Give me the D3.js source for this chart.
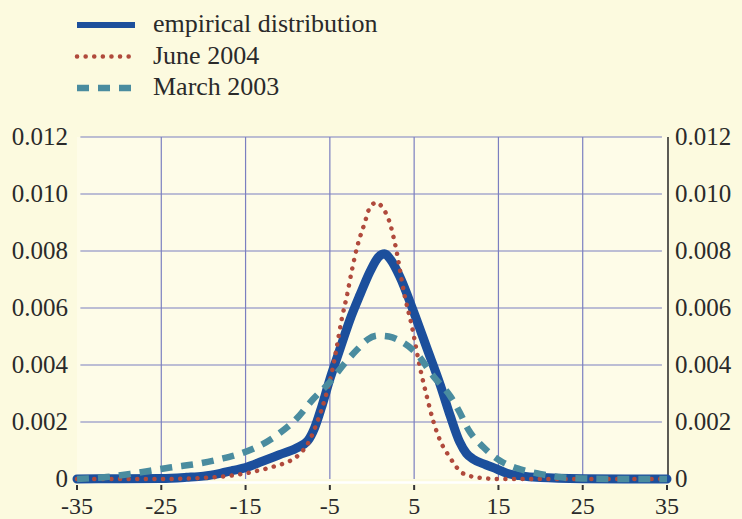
<!DOCTYPE html>
<html><head><meta charset="utf-8">
<script src="https://cdn.jsdelivr.net/npm/d3@7"></script>
<style>
html,body{margin:0;padding:0;background:#fcfadf;}
svg{display:block;}
text{font-family:"Liberation Serif","Times New Roman",serif;fill:#2a2a2a;}
</style></head>
<body>
<svg id="chart" width="742" height="519"></svg>
<script>
// ---- data ----
const xTicks = [-35,-25,-15,-5,5,15,25,35];
const yTicks = [0,0.002,0.004,0.006,0.008,0.010,0.012];
const yTickLabels = ["0","0.002","0.004","0.006","0.008","0.010","0.012"];
const seriesNames = ["empirical distribution","June 2004","March 2003"];

const empiricalX = [-35,-30,-25,-22,-20,-18,-16.5,-15,-13,-11,-9,-7.6,-6.8,-6,-5,-3.8,-2.6,-1.4,-0.2,0.8,1.5,2.2,3.3,4.9,6.5,8.1,9.3,10.4,11.2,12,13.5,14.8,16,17.5,20,25,30,35];
const empiricalY = [0,0.00001,0.00002,0.00006,0.0001,0.0002,0.0003,0.0004,0.00062,0.00085,0.00108,0.00135,0.0018,0.0025,0.0035,0.00456,0.0056,0.00648,0.0073,0.0078,0.0079,0.0077,0.0071,0.0059,0.0046,0.0033,0.0022,0.0013,0.0009,0.0007,0.0005,0.00035,0.0002,0.00012,0.00005,0.00001,0,0];

const juneX = [-35,-25,-20,-16,-13,-11.3,-9.7,-8.5,-7.5,-6.5,-5.5,-4.8,-4.2,-3.6,-3,-2.4,-1.8,-0.85,-0.3,0.5,1.3,2.1,2.7,3.9,4.7,5.7,6.5,7.3,8.1,9.1,10.9,12.9,15,35];
const juneY = [0,0,0.00004,0.00015,0.00033,0.00047,0.00064,0.0009,0.0013,0.002,0.0029,0.0037,0.0046,0.0056,0.0064,0.0073,0.0081,0.009,0.0095,0.0097,0.0095,0.009,0.0083,0.0064,0.0054,0.0039,0.0029,0.002,0.00134,0.00082,0.00018,0.00004,0,0];

const marchX = [-35,-31.5,-28.7,-26.3,-23.6,-20.8,-18,-15.7,-13.3,-11,-9,-7,-5,-3.4,-1.7,-0.5,0.7,2,3.3,5.3,7.3,9.3,10.4,11.4,13.2,15.2,17.5,19.9,22.5,25,30,35];
const marchY = [0,0.00007,0.00018,0.00029,0.00042,0.00053,0.0007,0.00088,0.00117,0.0016,0.0021,0.0028,0.0034,0.004,0.00456,0.0049,0.00503,0.005,0.00485,0.0044,0.0036,0.0029,0.00234,0.00175,0.00112,0.00064,0.00035,0.00018,0.00006,0.00002,0,0];

// ---- chart ----
const svg = d3.select("#chart");
const x = d3.scaleLinear().domain([-35,35]).range([77,667]);
const y = d3.scaleLinear().domain([0,0.012]).range([479,137]);

// plot background
svg.append("rect").attr("x",x(-35)).attr("y",y(0.012)).attr("width",x(35)-x(-35)).attr("height",y(0)-y(0.012)).attr("fill","#fefce8");

// horizontal gridlines
svg.append("g").selectAll("line").data(yTicks.filter(d=>d>0)).join("line")
  .attr("x1",x(-34.6)).attr("x2",x(34.4))
  .attr("y1",d=>y(d)).attr("y2",d=>y(d))
  .attr("stroke","#7b7fc0").attr("stroke-width",1.2);
// vertical gridlines
svg.append("g").selectAll("line").data(xTicks.slice(1,-1)).join("line")
  .attr("x1",d=>x(d)).attr("x2",d=>x(d))
  .attr("y1",y(0.012)).attr("y2",y(0))
  .attr("stroke","#7b7fc0").attr("stroke-width",1.2);

// bottom axis (white line with dark ticks)
const xAxis = d3.axisBottom(x).tickValues(xTicks).tickSize(0).tickPadding(0).tickFormat("");
const gx = svg.append("g").attr("transform",`translate(0,${y(0)+3})`).call(xAxis);
gx.select(".domain").attr("stroke","#ffffff").attr("stroke-width",2.5);
svg.append("g").selectAll("line").data(xTicks).join("line")
  .attr("x1",d=>x(d)).attr("x2",d=>x(d))
  .attr("y1",y(0)+6).attr("y2",y(0)+11)
  .attr("stroke","#333").attr("stroke-width",2);
svg.append("g").selectAll("text").data(xTicks).join("text")
  .attr("x",d=>x(d)).attr("y",513.5).attr("text-anchor","middle")
  .attr("font-size",24).text(d=>d);

// right axis line
svg.append("line").attr("x1",668).attr("x2",668).attr("y1",y(0.012)).attr("y2",y(0)+3)
  .attr("stroke","#333").attr("stroke-width",1.6);

// y labels
svg.append("g").selectAll("text").data(yTicks).join("text")
  .attr("x",68).attr("y",d=>y(d)).attr("dy","0.3em").attr("text-anchor","end")
  .attr("font-size",25).text((d,i)=>yTickLabels[i]);
svg.append("g").selectAll("text").data(yTicks).join("text")
  .attr("x",675).attr("y",d=>y(d)).attr("dy","0.3em").attr("text-anchor","start")
  .attr("font-size",25).text((d,i)=>yTickLabels[i]);

// lines
const line = d3.line().x(d=>x(d[0])).y(d=>y(d[1])).curve(d3.curveMonotoneX);
const zip = (a,b)=>a.map((v,i)=>[v,b[i]]);
const styles = [
  {stroke:"#1c4f9c", width:9, dash:null, cap:"round"},
  {stroke:"#b04a3c", width:4.5, dash:"0.1,8.5", cap:"round"},
  {stroke:"#4a8c9f", width:6.5, dash:"12,9", cap:"butt"}
];
const data = [zip(empiricalX,empiricalY), zip(juneX,juneY), zip(marchX,marchY)];
data.forEach((d,i)=>{
  const s = styles[i];
  const p = svg.append("path").datum(d).attr("d",line).attr("fill","none")
    .attr("stroke",s.stroke).attr("stroke-width",s.width)
    .attr("stroke-linecap",s.cap).attr("stroke-linejoin","round");
  if(s.dash) p.attr("stroke-dasharray",s.dash);
});

// legend
const legY = [25,56.5,88];
seriesNames.forEach((name,i)=>{
  const s = styles[i];
  const l = svg.append("line").attr("x1",77).attr("x2",135).attr("y1",legY[i]).attr("y2",legY[i])
    .attr("stroke",s.stroke).attr("stroke-width",i===0?6:s.width)
    .attr("stroke-linecap",i===1?"round":"butt");
  if(s.dash) l.attr("stroke-dasharray",s.dash);
  svg.append("text").attr("x",153).attr("y",legY[i]+7).attr("font-size",26).text(name);
});
</script>
</body></html>
